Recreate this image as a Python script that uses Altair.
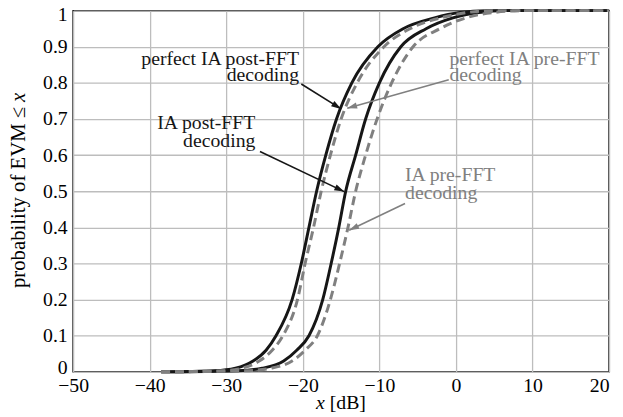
import math
import altair as alt
import pandas as pd

# ---------------- data ----------------
P = [0, 0.003, 0.01, 0.03, 0.06, 0.1, 0.2, 0.3, 0.4, 0.5, 0.6, 0.7, 0.8, 0.9, 0.95, 0.98, 0.995, 1.0, 1.0]
perfect_post = [-38.5, -31.5, -28.8, -26.5, -24.8, -23.5, -21.4, -20.2, -19.2, -18.2, -17.0, -15.6, -13.6, -10.2, -6.9, -2.8, 0.5, 4.0, 20]
perfect_pre = [-38.5, -30.5, -28.0, -25.7, -24.0, -22.6, -20.7, -19.7, -18.6, -17.6, -16.4, -15.0, -12.9, -9.4, -6.0, -2.0, 1.5, 5.0, 20]
ia_post = [-38.5, -28.5, -25.3, -22.5, -20.8, -19.2, -17.4, -16.3, -15.3, -14.4, -13.1, -11.8, -10.0, -7.2, -3.9, -0.4, 3.0, 6.5, 20]
ia_pre = [-38.5, -27.5, -24.2, -21.4, -19.7, -18.1, -16.4, -15.2, -14.1, -13.1, -11.8, -10.3, -8.4, -5.6, -2.1, 1.3, 5.0, 9.0, 20]

x_ticks = [-50, -40, -30, -20, -10, 0, 10, 20]
y_ticks = [0, 0.1, 0.2, 0.3, 0.4, 0.5, 0.6, 0.7, 0.8, 0.9, 1]

# annotation labels
label_text = ["perfect IA post-FFT", "decoding", "IA post-FFT", "decoding",
              "perfect IA pre-FFT", "decoding", "IA pre-FFT", "decoding"]
label_x = [-20.5, -20.5, -26.2, -26.2, -0.85, -0.85, -6.65, -6.65]
label_p = [0.866, 0.822, 0.689, 0.639, 0.866, 0.822, 0.544, 0.495]
label_align = ["right", "right", "right", "right", "left", "left", "left", "left"]
label_group = ["black", "black", "black", "black", "gray", "gray", "gray", "gray"]

# arrows: start -> tip
arrow_x1 = [-20.2, -25.6, -0.94, -6.65]
arrow_p1 = [0.797, 0.610, 0.809, 0.466]
arrow_x2 = [-15.0, -14.6, -14.2, -13.95]
arrow_p2 = [0.728, 0.499, 0.730, 0.392]
arrow_group = ["black", "black", "gray", "gray"]

# ---------------- build tables ----------------
W, H = 543, 366
XMIN, XMAX = -50, 20
BLACK = "#161616"
GRAY = "#808080"
FONT = "Liberation Serif"

rows = []
for name, style, xs in [("perfect IA post-FFT", "solid", perfect_post),
                        ("IA post-FFT", "solid", ia_post),
                        ("perfect IA pre-FFT", "dashed", perfect_pre),
                        ("IA pre-FFT", "dashed", ia_pre)]:
    for i, (xv, pv) in enumerate(zip(xs, P)):
        rows.append({"series": name, "style": style, "x": xv, "p": pv, "i": i})
curves = pd.DataFrame(rows)

labels = pd.DataFrame({"text": label_text, "x": label_x, "p": label_p,
                       "align": label_align, "group": label_group})

angles = []
for x1, p1, x2, p2 in zip(arrow_x1, arrow_p1, arrow_x2, arrow_p2):
    dx = (x2 - x1) * W / (XMAX - XMIN)
    dy = -(p2 - p1) * H
    angles.append(math.degrees(math.atan2(dx, -dy)) % 360)
arrows = pd.DataFrame({"x": arrow_x1, "p": arrow_p1, "x2": arrow_x2, "p2": arrow_p2,
                       "group": arrow_group})
heads = pd.DataFrame({"x": arrow_x2, "p": arrow_p2, "group": arrow_group, "angle": angles})

xscale = alt.Scale(domain=[XMIN, XMAX], nice=False, zero=False)
yscale = alt.Scale(domain=[0, 1], nice=False, zero=False)
xenc = alt.X("x:Q", scale=xscale,
             axis=alt.Axis(values=x_ticks, title=None, labelPadding=4, format="d",
                           labelFlush=False,
                           labelAlign={"condition": {"test": "datum.value == 20", "value": "right"},
                                       "value": "center"},
                           labelFont=FONT, labelFontSize=20, labelColor="black"))
yenc = alt.Y("p:Q", scale=yscale,
             axis=alt.Axis(values=y_ticks, title=None, labelPadding=6, format=".1~f",
                           labelFlush=True, labelFlushOffset=6,
                           labelFont=FONT, labelFontSize=20, labelColor="black"))
color_scale = alt.Scale(domain=["black", "gray"], range=[BLACK, GRAY])

solid = alt.Chart(curves).transform_filter(alt.datum.style == "solid").mark_line(
    color=BLACK, strokeWidth=3, interpolate="monotone"
).encode(x=xenc, y=yenc, detail="series:N", order="i:Q")

dashed = alt.Chart(curves).transform_filter(alt.datum.style == "dashed").mark_line(
    color=GRAY, strokeWidth=3, strokeDash=[9, 5], interpolate="monotone"
).encode(x=xenc, y=yenc, detail="series:N", order="i:Q")

arrow_lines = alt.Chart(arrows).mark_rule(strokeWidth=1.6).encode(
    x=xenc, y=yenc, x2="x2:Q", y2="p2:Q",
    color=alt.Color("group:N", scale=color_scale, legend=None))

arrow_heads = alt.Chart(heads).mark_point(
    shape="M0,0L-0.32,1L0.32,1Z", filled=True, size=400, opacity=1, strokeWidth=0
).encode(
    x=xenc, y=yenc,
    angle=alt.Angle("angle:Q", scale=None),
    color=alt.Color("group:N", scale=color_scale, legend=None))

text_right = alt.Chart(labels).transform_filter(alt.datum.align == "right").mark_text(
    align="right", baseline="middle", font=FONT, fontSize=20
).encode(x=xenc, y=yenc, text="text:N",
         color=alt.Color("group:N", scale=color_scale, legend=None))

text_left = alt.Chart(labels).transform_filter(alt.datum.align == "left").mark_text(
    align="left", baseline="middle", font=FONT, fontSize=20
).encode(x=xenc, y=yenc, text="text:N",
         color=alt.Color("group:N", scale=color_scale, legend=None))

one = pd.DataFrame({"k": [0]})
ytitle_main = alt.Chart(one).mark_text(
    angle=270, align="right", baseline="middle", font=FONT, fontSize=21, color="black"
).encode(x=alt.value(-55), y=alt.value(97.5), text=alt.value("probability of EVM \u2264"))
ytitle_x = alt.Chart(one).mark_text(
    angle=270, align="left", baseline="middle", font=FONT, fontSize=21, fontStyle="italic", color="black"
).encode(x=alt.value(-55), y=alt.value(92.5), text=alt.value("x"))
xtitle_x = alt.Chart(one).mark_text(
    align="right", baseline="middle", font=FONT, fontSize=20, fontStyle="italic", color="black"
).encode(x=alt.value(255), y=alt.value(398), text=alt.value("x"))
xtitle_rest = alt.Chart(one).mark_text(
    align="left", baseline="middle", font=FONT, fontSize=20, color="black"
).encode(x=alt.value(260), y=alt.value(398), text=alt.value("[dB]"))

chart = alt.layer(
    solid, dashed, arrow_lines, arrow_heads, text_right, text_left,
    ytitle_main, ytitle_x, xtitle_x, xtitle_rest
).properties(
    width=W, height=H, autosize="none",
    padding={"left": 66, "top": 0, "right": 6, "bottom": 40},
    background="white"
).configure_view(
    stroke="black", strokeWidth=1.5
).configure_axis(
    grid=True, gridColor="#bdbdbd", gridWidth=1.3, domain=False, ticks=False,
    labelFont=FONT, labelFontSize=20, labelColor="black"
)

chart.save("out.html", embed_options={"renderer": "svg", "actions": False})
